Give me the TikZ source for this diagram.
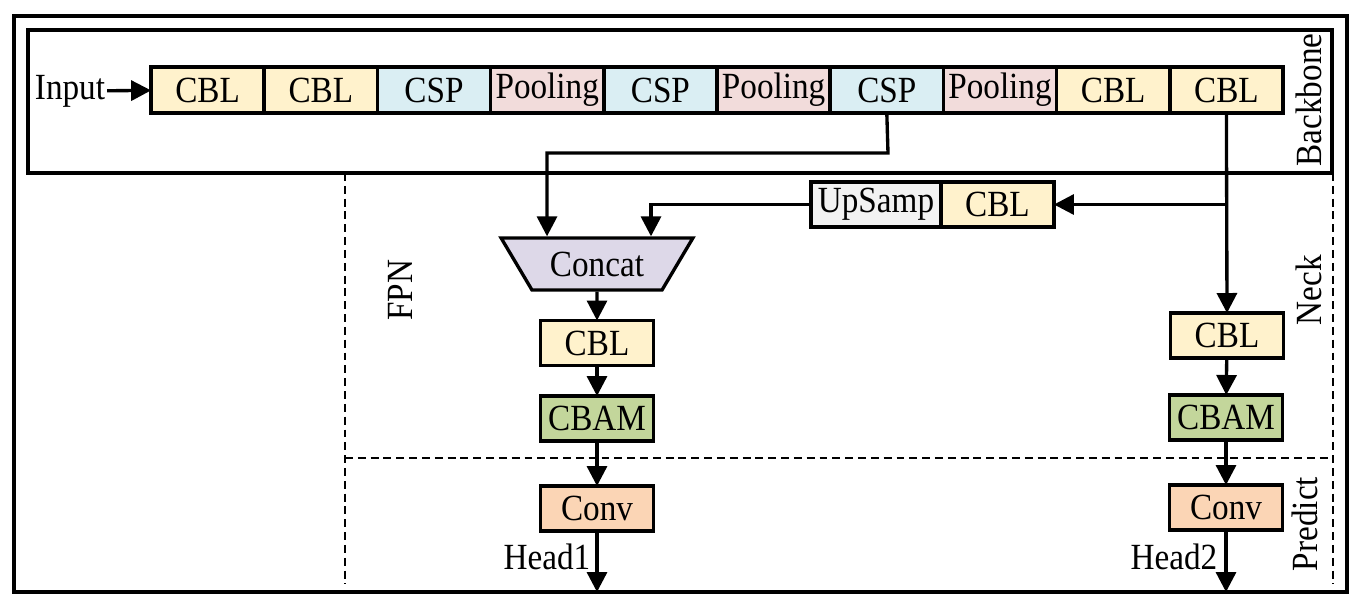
\documentclass[tikz,border=0pt]{standalone}
\usepackage{fontspec}
\setmainfont{Liberation Serif}[FakeStretch=0.9]
\usetikzlibrary{arrows.meta,shapes.geometric}
\definecolor{cblc}{HTML}{FFF2CC}
\definecolor{cspc}{HTML}{DAEEF3}
\definecolor{poolc}{HTML}{F2DCDB}
\definecolor{upc}{HTML}{F2F2F2}
\definecolor{catc}{HTML}{DDD8E8}
\definecolor{cbamc}{HTML}{C3D69B}
\definecolor{convc}{HTML}{FBD5B5}
\begin{document}
\begin{tikzpicture}[x=0.02cm,y=-0.02cm,font=\fontsize{21}{24}\selectfont,
	blk/.style={draw,line width=1.9pt,inner sep=0pt,outer sep=0pt,minimum width=2.26cm,minimum height=0.9cm},
	lnk/.style={line width=1.9pt},
	arr/.style={lnk,-{Triangle[length=0.4cm,width=0.4cm]}},
	sect/.style={line width=1.4pt,dash pattern=on 4.5pt off 2.8pt}]
	\useasboundingbox (0,0) rectangle (1362,609);
	
	%frames
	\draw[line width=2.6pt] (14,16) rectangle (1347,592);
	\draw[line width=1.9pt] (28,30) rectangle (1332,173);
	\draw[sect] (345,173) -- (345,584);
	\draw[sect] (1333,173) -- (1333,584);
	\draw[sect] (345,458) -- (1333,458);
	
	%backbone
	\node[inner sep=1pt] (input) at (70,91) {Input};
	\foreach \i/\t/\c in {1/CBL/cblc, 2/CBL/cblc, 3/CSP/cspc, 4/Pooling/poolc, 5/CSP/cspc, 6/Pooling/poolc, 7/CSP/cspc, 8/Pooling/poolc, 9/CBL/cblc, 10/CBL/cblc}{
		\node[blk,fill=\c,minimum height=0.92cm] (b\i) at ({151+113.2*(\i-0.5)},90) {\t};
	}
	\draw[arr] (input) -- (b1);
	\node[rotate=90] (backbone) at (1309,100) {Backbone};
	
	%neck
	\node[blk,fill=upc,minimum width=2.6cm] (ups) at (876,204.5) {UpSamp};
	\node[blk,fill=cblc,anchor=west] (ucbl) at (ups.east) {CBL};
	\node[trapezium,shape border rotate=180,trapezium stretches=true,trapezium angle=48,draw,line width=1.9pt,fill=catc,minimum width=3.86cm,minimum height=1.04cm,inner sep=0pt] (cat) at (597,264) {Concat};
	\node[blk,fill=cblc] (lcbl) at (597,343) {CBL};
	\node[blk,fill=cbamc] (lcbam) at (597,418.5) {CBAM};
	\node[blk,fill=cblc] (rcbl) at (1227,335.5) {CBL};
	\node[blk,fill=cbamc] (rcbam) at (1226,417.5) {CBAM};
	\node[rotate=90] (fpn) at (400,290) {FPN};
	\node[rotate=90] (neck) at (1309,290) {Neck};
	
	%predict
	\node[blk,fill=convc] (lconv) at (597,508.5) {Conv};
	\node[blk,fill=convc] (rconv) at (1226,507.5) {Conv};
	\node[rotate=90] (predict) at (1305,524) {Predict};
	\node (head1) at (547,557) {Head1};
	\node (head2) at (1174,557) {Head2};
	\coordinate (out1) at (lconv.south |- 0,592);
	\coordinate (out2) at (rconv.south |- 0,592);
	
	%links
	\coordinate (cspturn) at (888,153);
	\coordinate (split) at (b10.south |- ucbl.east);
	\draw[arr] (b7.south) -- (cspturn) -| ([xshift=-1cm]cat.north);
	\draw[arr] (ups.west) -| ([xshift=1.08cm]cat.north);
	\draw[arr] (b10.south) -- (rcbl.north);
	\draw[arr] (split) -- (ucbl.east);
	\draw[arr] (cat.south) -- (lcbl.north);
	\draw[arr] (lcbl) -- (lcbam);
	\draw[arr] (lcbam) -- (lconv);
	\draw[arr] (lconv) -- (out1);
	\draw[arr] (rcbl) -- (rcbam);
	\draw[arr] (rcbam) -- (rconv);
	\draw[arr] (rconv) -- (out2);
\end{tikzpicture}
\end{document}
